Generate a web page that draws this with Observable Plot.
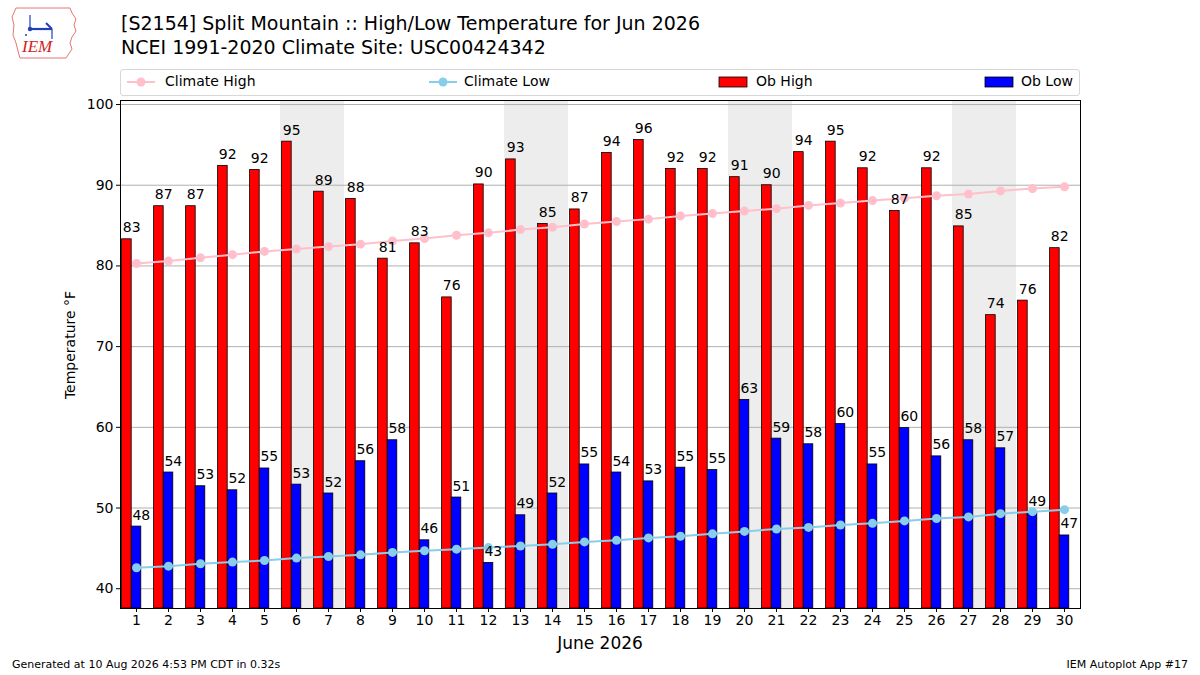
<!DOCTYPE html>
<html>
<head>
<meta charset="utf-8">
<script src="https://cdn.jsdelivr.net/npm/d3@7"></script>
<script src="https://cdn.jsdelivr.net/npm/@observablehq/plot@0.6"></script>
<style>
  body { margin: 0; background: #fff; font-family: "DejaVu Sans", sans-serif; }
  #wrap { position: relative; width: 1200px; height: 675px; overflow: hidden; background: #fff; }
  .abs { position: absolute; white-space: nowrap; color: #000; }
  #chart { position: absolute; left: 0; top: 66px; }
  .leg { position: absolute; top: 73px; font-size: 14px; line-height: 17px; }
</style>
</head>
<body>
<div id="wrap">
  <svg class="abs" style="left:10px;top:5px" width="70" height="54" viewBox="0 0 70 54">
    <path d="M6,3 L60,3 L62,8 L66,14 L64,20 L66,26 L62,32 L60,38 L62,44 L58,50 L56,53 L10,53 L8,46 L6,38 L3,30 L4,20 L2,12 Z" fill="#fff" stroke="#e87474" stroke-width="1"/>
    <line x1="20" y1="24" x2="42" y2="24" stroke="#1f3fbf" stroke-width="2.2"/>
    <line x1="20" y1="10" x2="20" y2="24" stroke="#1f3fbf" stroke-width="1.2"/>
    <line x1="36" y1="18" x2="42" y2="24" stroke="#1f3fbf" stroke-width="2"/>
    <line x1="42" y1="24" x2="42" y2="34" stroke="#1f3fbf" stroke-width="1.2"/>
    <circle cx="20" cy="24" r="2.2" fill="#1f3fbf"/>
    <circle cx="16" cy="30" r="1" fill="#1f3fbf"/>
    <text x="12" y="47" font-family="Liberation Serif" font-style="italic" font-size="17" fill="#d42020">IEM</text>
  </svg>
  <div class="abs" style="left:121px;top:11px;font-size:19px;line-height:24px">[S2154] Split Mountain :: High/Low Temperature for Jun 2026</div>
  <div class="abs" style="left:121px;top:35px;font-size:19px;line-height:24px">NCEI 1991-2020 Climate Site: USC00424342</div>

  <div class="abs" style="left:120px;top:69px;width:958px;height:25px;border:1px solid #d8d8d8;border-radius:3px;"></div>
  <svg class="abs" style="left:125px;top:74px" width="32" height="16"><line x1="2" y1="8" x2="30" y2="8" stroke="pink" stroke-width="2"/><circle cx="16" cy="8" r="4.5" fill="pink"/></svg>
  <div class="leg abs" style="left:165px">Climate High</div>
  <svg class="abs" style="left:427px;top:74px" width="32" height="16"><line x1="2" y1="8" x2="30" y2="8" stroke="#87ceeb" stroke-width="2"/><circle cx="16" cy="8" r="4.5" fill="#87ceeb"/></svg>
  <div class="leg abs" style="left:464px">Climate Low</div>
  <svg class="abs" style="left:718px;top:76px" width="30" height="12"><rect x="1" y="1" width="28" height="10" fill="#ff0000" stroke="#000" stroke-width="0.8"/></svg>
  <div class="leg abs" style="left:756px">Ob High</div>
  <svg class="abs" style="left:984px;top:76px" width="30" height="12"><rect x="1" y="1" width="28" height="10" fill="#0000ff" stroke="#000" stroke-width="0.8"/></svg>
  <div class="leg abs" style="left:1021px">Ob Low</div>

  <div id="chart"></div>

  <div class="abs" style="left:70px;top:345px;font-size:14px;transform:translate(-50%,-50%) rotate(-90deg);">Temperature °F</div>
  <div class="abs" style="left:600px;top:633px;font-size:17px;transform:translateX(-50%);">June 2026</div>
  <div class="abs" style="left:12px;top:658px;font-size:11px;">Generated at 10 Aug 2026 4:53 PM CDT in 0.32s</div>
  <div class="abs" style="right:12px;top:658px;font-size:11px;">IEM Autoplot App #17</div>
</div>
<script>
const days = d3.range(1, 31);
const obHigh = [83.3, 87.4, 87.4, 92.4, 91.9, 95.4, 89.2, 88.3, 80.9, 82.8,
                76.1, 90.1, 93.2, 85.2, 87.0, 94.0, 95.6, 92.0, 92.0, 91.0,
                90.0, 94.1, 95.4, 92.1, 86.8, 92.1, 84.9, 73.9, 75.7, 82.2];
const obLow = [47.7, 54.4, 52.7, 52.2, 54.9, 52.9, 51.8, 55.8, 58.4, 46.0,
               51.3, 43.2, 49.1, 51.8, 55.4, 54.4, 53.3, 55.0, 54.7, 63.4,
               58.6, 57.9, 60.4, 55.4, 59.9, 56.4, 58.4, 57.4, 49.4, 46.6];
const climHigh = [80.3, 80.6, 81.0, 81.4, 81.8, 82.1, 82.4, 82.7, 83.1, 83.4,
                  83.8, 84.1, 84.5, 84.8, 85.2, 85.5, 85.8, 86.2, 86.5, 86.8,
                  87.1, 87.5, 87.8, 88.1, 88.4, 88.7, 88.9, 89.3, 89.6, 89.8];
const climLow = [42.6, 42.8, 43.1, 43.3, 43.5, 43.8, 44.0, 44.2, 44.5, 44.7,
                 44.9, 45.1, 45.3, 45.5, 45.8, 46.0, 46.3, 46.5, 46.8, 47.1,
                 47.4, 47.6, 47.9, 48.1, 48.4, 48.7, 48.9, 49.3, 49.55, 49.8];
const weekendStarts = [6, 13, 20, 27];
const yTicks = [40, 50, 60, 70, 80, 90, 100];
const yDomain = [37.55, 100.5];

const rows = days.map((d, i) => ({day: d, high: obHigh[i], low: obLow[i], ch: climHigh[i], cl: climLow[i]}));

const chart = Plot.plot({
  width: 1200,
  height: 609,
  marginTop: 34,
  marginBottom: 67,
  marginLeft: 120,
  marginRight: 120,
  style: {fontFamily: "DejaVu Sans", fontSize: "14px", color: "#000", background: "transparent"},
  x: {type: "linear", domain: [0.5, 30.5]},
  y: {domain: yDomain},
  marks: [
    Plot.rect(weekendStarts, {x1: d => d - 0.5, x2: d => d + 1.5, fill: "#ededed"}),
    Plot.ruleY(yTicks, {stroke: "#b0b0b0", strokeWidth: 1}),
    Plot.rect(rows, {x1: d => d.day - 0.45, x2: d => d.day - 0.15, y1: yDomain[0], y2: "high", fill: "#ff0000", stroke: "#000", strokeWidth: 0.8}),
    Plot.rect(rows, {x1: d => d.day - 0.15, x2: d => d.day + 0.15, y1: yDomain[0], y2: "low", fill: "#0000ff", stroke: "#000", strokeWidth: 0.8}),
    Plot.line(rows, {x: "day", y: "ch", stroke: "pink", strokeWidth: 2}),
    Plot.dot(rows, {x: "day", y: "ch", r: 4.5, fill: "pink"}),
    Plot.line(rows, {x: "day", y: "cl", stroke: "#87ceeb", strokeWidth: 2}),
    Plot.dot(rows, {x: "day", y: "cl", r: 4.5, fill: "#87ceeb"}),
    Plot.text(rows, {x: d => d.day - 0.15, y: "high", text: d => Math.round(d.high), dy: -7, lineAnchor: "bottom", fontSize: 14, fill: "#000"}),
    Plot.text(rows, {x: d => d.day + 0.15, y: "low", text: d => Math.round(d.low), dy: -7, lineAnchor: "bottom", fontSize: 14, fill: "#000"}),
    Plot.axisX({ticks: days, tickFormat: d => d, tickSize: 4, tickPadding: 3, label: null, fontSize: 14}),
    Plot.axisY({ticks: yTicks, tickSize: 4, tickPadding: 3, label: null, fontSize: 14}),
    Plot.frame({stroke: "#000", strokeWidth: 1})
  ]
});
document.getElementById("chart").appendChild(chart);
</script>
</body>
</html>
